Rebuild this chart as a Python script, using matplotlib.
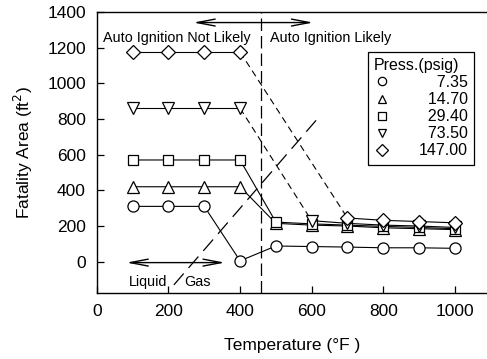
import matplotlib.pyplot as plt
from matplotlib.lines import Line2D

plt.rcParams['font.family'] = ['Liberation Sans', 'DejaVu Sans']

# temperatures (F)
temps = [100, 200, 300, 400, 500, 600, 700, 800, 900, 1000]

# fatality area (ft^2) for each pressure (psig)
area_735 = [310, 310, 310, 5, 88, 85, 82, 78, 78, 75]
area_1470 = [420, 420, 420, 420, 215, 205, 200, 190, 185, 180]
area_2940 = [570, 570, 570, 570, 222, 212, 205, 198, 192, 185]
area_7350_t = [100, 200, 300, 400, 600, 700, 800, 900, 1000]
area_7350 = [860, 860, 860, 860, 230, 215, 205, 200, 192]
area_147_t = [100, 200, 300, 400, 700, 800, 900, 1000]
area_147 = [1175, 1175, 1175, 1175, 245, 232, 225, 218]

# figure spaces keep the numbers right aligned
labels = ['\u2007\u20077.35', '\u200714.70', '\u200729.40', '\u200773.50', '147.00']
markers = ['o', '^', 's', 'v', 'D']

boundary_x = [215, 621]
boundary_y = [-130, 812]
ignition_t = 459

fig = plt.figure(figsize=(4.87, 3.59), dpi=100)
ax = fig.add_axes([0.199, 0.184, 0.801, 0.783])

lw = 0.8
ms = 8
mk = dict(color='black', lw=lw, mfc='white', mec='black', mew=0.9, zorder=3)

ax.plot(temps, area_735, marker='o', ms=ms, **mk)
ax.plot(temps, area_1470, marker='^', ms=ms, **mk)
ax.plot(temps, area_2940, marker='s', ms=ms - 1, **mk)

# 73.50: solid on liquid side, dashed jump, solid on gas side
ax.plot(area_7350_t[:4], area_7350[:4], marker='v', ms=ms + 0.5, **mk)
ax.plot(area_7350_t[3:5], area_7350[3:5], color='black', lw=lw, ls=(0, (6, 4)), zorder=2)
ax.plot(area_7350_t[4:], area_7350[4:], marker='v', ms=ms + 0.5, **mk)

ax.plot(area_147_t[:4], area_147[:4], marker='D', ms=ms - 0.5, **mk)
ax.plot(area_147_t[3:5], area_147[3:5], color='black', lw=lw, ls=(0, (6, 4)), zorder=2)
ax.plot(area_147_t[4:], area_147[4:], marker='D', ms=ms - 0.5, **mk)

# liquid/gas boundary and auto ignition line
ax.plot(boundary_x, boundary_y, color='black', lw=0.9, ls=(0, (12, 6)), zorder=1)
ax.axvline(ignition_t, color='black', lw=0.9, ls=(0, (10, 4)), zorder=1)

ax.annotate('', xy=(262, 1340), xytext=(612, 1340),
            arrowprops=dict(arrowstyle='<->,head_length=1.3,head_width=0.25', color='black', lw=1.0))
ax.annotate('', xy=(75, -5), xytext=(365, -5),
            arrowprops=dict(arrowstyle='<->,head_length=1.3,head_width=0.25', color='black', lw=1.0))

ax.text(18, 1252, 'Auto Ignition Not Likely', fontsize=10.4, va='center', ha='left')
ax.text(483, 1252, 'Auto Ignition Likely', fontsize=10.4, va='center', ha='left')
ax.text(90, -112, 'Liquid', fontsize=10.4, va='center', ha='left')
ax.text(245, -112, 'Gas', fontsize=10.4, va='center', ha='left')

handles = [Line2D([], [], ls='none', marker=m, ms=6, mfc='white', mec='black', mew=0.9)
           for m in markers]
leg = ax.legend(handles, labels, title='Press.(psig)', loc='upper right',
                bbox_to_anchor=(0.988, 0.887), fontsize=11.5, title_fontsize=11.5,
                frameon=True, fancybox=False, edgecolor='black', framealpha=1,
                handlelength=1.0, handletextpad=1.8, labelspacing=0.13,
                borderpad=0.4, alignment='left')
leg.get_frame().set_linewidth(0.9)

ax.set_xlim(0, 1090)
ax.set_ylim(-175, 1400)
ax.set_xticks([0, 200, 400, 600, 800, 1000])
ax.set_yticks(range(0, 1401, 200))
ax.tick_params(direction='in', length=5, width=0.9, labelsize=12.5, pad=8)
ax.spines['right'].set_visible(False)
for s in ['left', 'bottom', 'top']:
    ax.spines[s].set_linewidth(1.0)

ax.set_xlabel('Temperature (\u00b0F )', fontsize=12.5, labelpad=14)
ax.set_ylabel('Fatality Area (ft$^2$)', fontsize=12.5, labelpad=9)

fig.savefig('out.png', dpi=100)
